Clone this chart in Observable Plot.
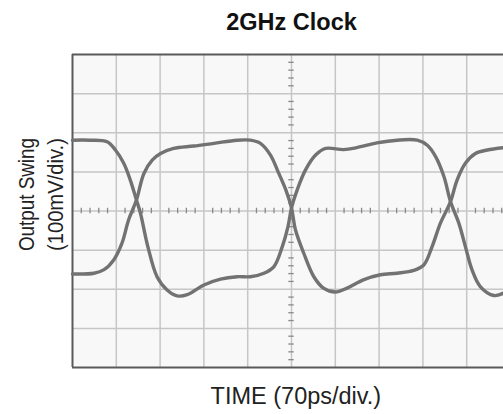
<!DOCTYPE html>
<html>
<head>
<meta charset="utf-8">
<script src="https://cdn.jsdelivr.net/npm/d3@7"></script>
<script src="https://cdn.jsdelivr.net/npm/@observablehq/plot@0.6"></script>
<style>
  html, body { margin: 0; padding: 0; background: #ffffff; overflow: hidden; }
  #chart { width: 503px; height: 414px; }
</style>
</head>
<body>
<div id="chart"></div>
<script>
// ---- Data (units: divisions; x = 70 ps/div, y = 100 mV/div) ----
const titleText = "2GHz Clock";
const xLabel = "TIME (70ps/div.)";
const yLabelLines = ["Output Swing", "(100mV/div.)"];

const xGrid = [0, 1, 2, 3, 4, 5, 6, 7, 8, 9, 10];
const yGrid = [-4, -3, -2, -1, 0, 1, 2, 3, 4];
const xVisibleMax = 9.84;       // screen is cropped at the right edge
const xCenter = 5;
const yCenter = 0;

// Trace A: starts high, falls, rises, falls
const traceA_t = [0, 0.4, 0.79, 0.98, 1.17, 1.32, 1.46, 1.55, 1.72, 1.93, 2.16, 2.39, 2.62, 3.0, 3.38, 3.76, 4.06, 4.37, 4.6, 4.79, 4.92, 5.0, 5.13, 5.32, 5.55, 5.78, 6.19, 6.49, 6.95, 7.41, 7.87, 8.1, 8.29, 8.48, 8.63, 8.82, 8.97, 9.12, 9.31, 9.62, 9.84];
const traceA_v = [1.81, 1.81, 1.77, 1.56, 1.22, 0.79, 0.28, -0.05, -0.91, -1.68, -2.02, -2.17, -2.14, -1.89, -1.74, -1.68, -1.68, -1.59, -1.42, -0.91, -0.4, 0.08, 0.54, 1.05, 1.43, 1.6, 1.57, 1.62, 1.74, 1.81, 1.81, 1.68, 1.39, 0.88, 0.24, -0.31, -0.91, -1.5, -1.93, -2.16, -2.1];

// Trace B: starts low, rises, falls, rises
const traceB_t = [0, 0.49, 0.72, 0.94, 1.13, 1.28, 1.46, 1.63, 1.82, 2.01, 2.31, 2.77, 3.23, 3.76, 4.06, 4.29, 4.52, 4.71, 4.87, 5.0, 5.09, 5.28, 5.51, 5.73, 6.0, 6.27, 6.64, 7.03, 7.41, 7.79, 8.02, 8.21, 8.4, 8.63, 8.78, 8.97, 9.2, 9.47, 9.84];
const traceB_v = [-1.61, -1.59, -1.5, -1.25, -0.82, -0.23, 0.28, 0.96, 1.3, 1.47, 1.6, 1.66, 1.73, 1.81, 1.81, 1.73, 1.43, 0.96, 0.54, 0.08, -0.48, -1.08, -1.68, -1.97, -2.07, -1.97, -1.76, -1.63, -1.59, -1.52, -1.38, -0.91, -0.31, 0.24, 0.79, 1.22, 1.47, 1.56, 1.62];

// ---- Build tables ----
const traceA = traceA_t.map((t, i) => ({t, v: traceA_v[i]}));
const traceB = traceB_t.map((t, i) => ({t, v: traceB_v[i]}));
const minorX = d3.range(0, 50).map(i => i / 5).filter(d => d % 1 !== 0 && d <= xVisibleMax);
const minorY = d3.range(-20, 21).map(i => i / 5).filter(d => Math.abs(d % 1) > 1e-9);

const tickHalfY = 0.07;   // half-length of center-line ticks (in y divisions)
const tickHalfX = 0.062;  // half-length of center-line ticks (in x divisions)

const gridColor = "#c6c6c6";
const traceColor = "#727272";
const font = "'Liberation Sans', Arial, Helvetica, sans-serif";

const chart = Plot.plot({
  width: 503,
  height: 414,
  marginLeft: 72,
  marginRight: 0,
  marginTop: 54,
  marginBottom: 47,
  style: {fontFamily: font, background: "#ffffff", overflow: "visible"},
  x: {domain: [xGrid[0], xVisibleMax], axis: null},
  y: {domain: [yGrid[0], yGrid[yGrid.length - 1]], axis: null},
  marks: [
    Plot.frame({fill: "#f8f8f8", stroke: null}),
    Plot.ruleX(xGrid.filter(d => d > xGrid[0] && d <= xVisibleMax), {stroke: gridColor, strokeWidth: 1.5}),
    Plot.ruleY(yGrid.filter(d => d > yGrid[0] && d < yGrid[yGrid.length - 1]), {stroke: gridColor, strokeWidth: 1.5}),
    // minor ticks on the center graticule lines
    Plot.ruleX(minorX, {x: d => d, y1: yCenter - tickHalfY, y2: yCenter + tickHalfY, stroke: "#8a8a8a", strokeWidth: 1.3}),
    Plot.ruleY(minorY, {y: d => d, x1: xCenter - tickHalfX, x2: xCenter + tickHalfX, stroke: "#8a8a8a", strokeWidth: 1.3}),
    // outer frame (left, top, bottom; right edge is cropped)
    Plot.ruleX([xGrid[0]], {stroke: "#5a5a5a", strokeWidth: 2}),
    Plot.ruleY([yGrid[0], yGrid[yGrid.length - 1]], {stroke: "#5a5a5a", strokeWidth: 2}),
    // waveforms
    Plot.line(traceA, {x: "t", y: "v", stroke: traceColor, strokeWidth: 3.4, curve: "catmull-rom"}),
    Plot.line(traceB, {x: "t", y: "v", stroke: traceColor, strokeWidth: 3.4, curve: "catmull-rom"}),
    // title
    Plot.text([titleText], {x: xCenter, y: yGrid[yGrid.length - 1], text: d => d, dy: -32.2,
      fontSize: 23.5, fontWeight: "bold", fill: "#111", textAnchor: "middle", lineAnchor: "middle"}),
    // x label
    Plot.text([xLabel], {x: xCenter + 0.1, y: yGrid[0], text: d => d, dy: 28.8,
      fontSize: 23.5, fill: "#222", textAnchor: "middle", lineAnchor: "middle"}),
    // y label (two lines)
    Plot.text([yLabelLines[0]], {y: 0.42, frameAnchor: "left", text: d => d, dx: -46, rotate: -90,
      fontSize: 22, fill: "#222", textAnchor: "middle", lineAnchor: "middle"}),
    Plot.text([yLabelLines[1]], {y: 0.42, frameAnchor: "left", text: d => d, dx: -16.5, rotate: -90,
      fontSize: 22, fill: "#222", textAnchor: "middle", lineAnchor: "middle"})
  ]
});
// the reference's vertical label is slightly condensed along its length
d3.select(chart).selectAll("text")
  .filter(function() { return yLabelLines.includes(this.textContent); })
  .attr("textLength", 113)
  .attr("lengthAdjust", "spacingAndGlyphs");
document.getElementById("chart").appendChild(chart);
</script>
</body>
</html>
